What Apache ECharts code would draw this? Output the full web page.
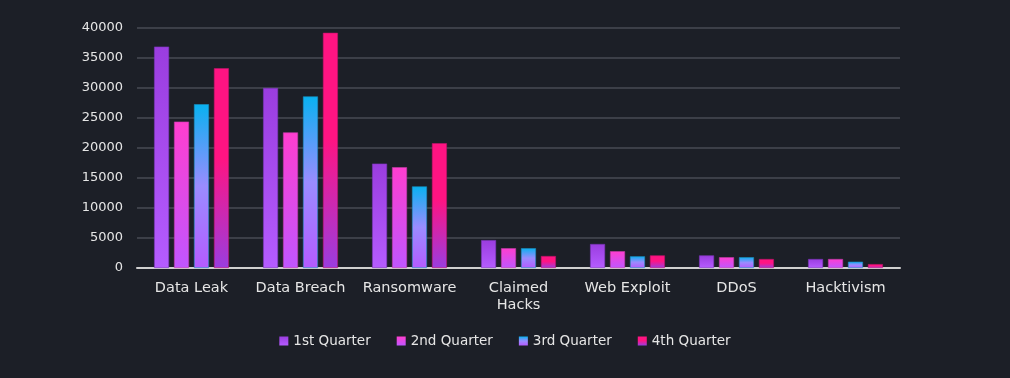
<!DOCTYPE html>
<html><head><meta charset="utf-8">
<script src="https://cdn.jsdelivr.net/npm/echarts@6/dist/echarts.min.js"></script>
<style>html,body{margin:0;padding:0;background:#1c1f27;}#c{width:1010px;height:378px;}</style>
</head><body><div id="c"></div>
<script>
const categories = ['Data Leak','Data Breach','Ransomware','Claimed\nHacks','Web Exploit','DDoS','Hacktivism'];
const seriesNames = ['1st Quarter','2nd Quarter','3rd Quarter','4th Quarter'];
const q1 = [36900, 30000, 17400, 4650, 4000, 2100, 1500];
const q2 = [24400, 22600, 16800, 3300, 2800, 1800, 1500];
const q3 = [27300, 28600, 13600, 3300, 1950, 1800, 1050];
const q4 = [33300, 39200, 20800, 2000, 2100, 1500, 650];
const yTicks = {min: 0, max: 40000, interval: 5000};

function grad(stops){return new echarts.graphic.LinearGradient(0,0,0,1,stops.map(s=>({offset:s[0],color:s[1]})));}
const fills = [
  grad([[0,'#9a3ddf'],[1,'#b55cff']]),
  grad([[0,'#ff3ecf'],[1,'#c056ff']]),
  grad([[0,'#09b1f0'],[0.5,'#9a8cff'],[1,'#b45bff']]),
  grad([[0,'#ff1482'],[0.45,'#ff1482'],[1,'#9a3ddf']])
];
const borders = ['#7a35b8','#c23aa8','#1a8fc0','#c0136a'];
const data = [q1,q2,q3,q4];
const font = '"DejaVu Sans", sans-serif';
const chart = echarts.init(document.getElementById('c'));
chart.setOption({
  backgroundColor:'#1c1f27',
  animation:false,
  grid:{left:137,right:110,top:28,bottom:110},
  legend:{bottom:25,left:'center',icon:'rect',itemWidth:9,itemHeight:9,itemGap:26,
    itemStyle:{borderWidth:0},
    textStyle:{color:'#e6e6e6',fontSize:13.5,fontFamily:font},data:seriesNames},
  xAxis:{type:'category',data:categories,
    axisLine:{lineStyle:{color:'#d0d0d0',width:2}},axisTick:{show:false},
    axisLabel:{color:'#e6e6e6',fontSize:14.5,fontFamily:font,margin:12,lineHeight:17,interval:0}},
  yAxis:{type:'value',min:yTicks.min,max:yTicks.max,interval:yTicks.interval,
    axisLine:{show:false},axisTick:{show:false},
    splitLine:{lineStyle:{color:'#3c3f48',width:2}},
    axisLabel:{color:'#e6e6e6',fontSize:13,fontFamily:font,margin:14,formatter:v=>String(v)}},
  series:data.map((d,i)=>({name:seriesNames[i],type:'bar',data:d,barWidth:15,barGap:'33%',
    itemStyle:{color:fills[i],borderColor:borders[i],borderWidth:0.6}}))
});
</script></body></html>
